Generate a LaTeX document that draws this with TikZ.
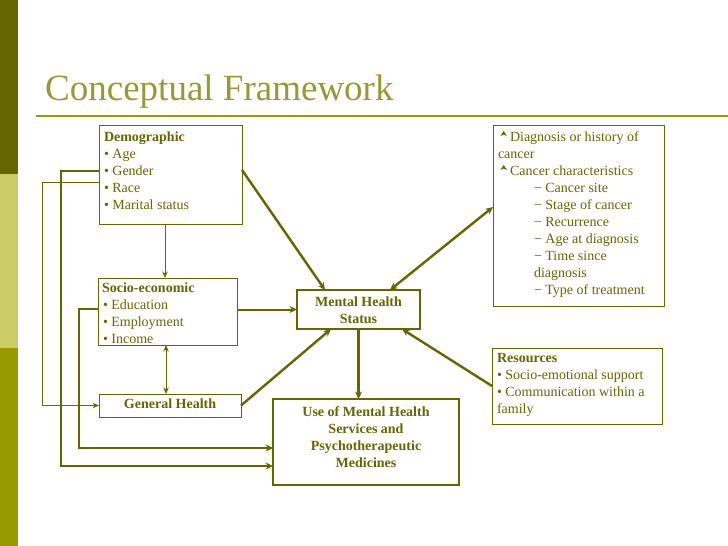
\documentclass[tikz,border=0pt]{standalone}
\usepackage{fontspec}
\setmainfont{Liberation Serif}
\usetikzlibrary{arrows.meta}
\definecolor{olivedark}{HTML}{666600}
\definecolor{olivemid}{HTML}{999900}
\definecolor{olivelight}{HTML}{CCCC66}
\definecolor{titlecol}{HTML}{999933}
\begin{document}
\begin{tikzpicture}[x=1pt,y=-1pt,
  box/.style={draw=olivedark, line width=1pt, inner sep=0pt, outer sep=0pt, rectangle},
  tbox/.style={box, line width=2.2pt},
  txt/.style={anchor=base west, inner sep=0pt, outer sep=0pt, text=olivedark, font=\fontsize{14}{17}\selectfont},
  btxt/.style={txt, font=\bfseries\fontsize{14}{17}\selectfont},
  ctxt/.style={inner sep=0pt, text=olivedark, align=center, font=\bfseries\fontsize{14}{17}\selectfont},
  thinarrow/.style={draw=olivedark, line width=0.9pt, -{Stealth[length=6.5pt,width=5.5pt]}},
  thickarrow/.style={draw=olivedark, line width=2.4pt, -{Stealth[length=7.5pt,width=7pt]}},
  marker/.style={fill=olivedark}
]
\useasboundingbox (0,0) rectangle (728,546);
\fill[white] (0,0) rectangle (728,546);
% side bar
\fill[olivedark] (0,0) rectangle (18,174);
\fill[olivelight] (0,174) rectangle (18,348);
\fill[olivemid] (0,348) rectangle (18,546);
% title
\node[anchor=base west, inner sep=0pt, text=titlecol, font=\fontsize{37}{40}\selectfont] (title) at (45,100) {Conceptual Framework};
\draw[olivemid, line width=2pt] (36,116) -- (728,116);

% boxes
\node[box, minimum width=143pt, minimum height=99pt] (demo) at (170.5,174.5) {};
\node[box, minimum width=139pt, minimum height=67pt] (socio) at (167.5,311.5) {};
\node[box, minimum width=142pt, minimum height=23pt] (gen) at (170,405.5) {};
\node[tbox, minimum width=123pt, minimum height=39pt] (mhs) at (358.5,309.5) {};
\node[tbox, minimum width=186pt, minimum height=86pt] (use) at (366,442) {};
\node[box, minimum width=171pt, minimum height=181pt] (cancer) at (578.5,215.5) {};
\node[box, minimum width=170pt, minimum height=76pt] (res) at (577,386) {};

% demographic text
\node[btxt] (demoT) at (104,141) {Demographic};
\node[txt] (demo1) at (104,158) {• Age};
\node[txt] (demo2) at (104,175) {• Gender};
\node[txt] (demo3) at (104,192) {• Race};
\node[txt] (demo4) at (104,209) {• Marital status};

% socio-economic text
\node[btxt] (socT) at (102,292) {Socio-economic};
\node[txt] (soc1) at (103,309) {• Education};
\node[txt] (soc2) at (103,326) {• Employment};
\node[txt] (soc3) at (103,343) {• Income};

% general health
\node[ctxt, anchor=base] (genT) at (170,408) {General Health};

% mental health status
\node[ctxt, anchor=base] (mhsT1) at (358.5,306) {Mental Health};
\node[ctxt, anchor=base] (mhsT2) at (358.5,323) {Status};

% use of services
\node[ctxt, anchor=base] (useT1) at (366,416) {Use of Mental Health};
\node[ctxt, anchor=base] (useT2) at (366,433) {Services and};
\node[ctxt, anchor=base] (useT3) at (366,450) {Psychotherapeutic};
\node[ctxt, anchor=base] (useT4) at (366,467) {Medicines};

% cancer box
\fill[marker] (500.5,136) -- (503.7,131) -- (506.9,136) -- (503.7,134.6) -- cycle;
\node[txt] (can1) at (510,141) {Diagnosis or history of};
\node[txt] (can2) at (498,158) {cancer};
\fill[marker] (500.5,170) -- (503.7,165) -- (506.9,170) -- (503.7,168.6) -- cycle;
\node[txt] (can3) at (510,175) {Cancer characteristics};
\node[txt] (can4) at (534,192) {− Cancer site};
\node[txt] (can5) at (534,209) {− Stage of cancer};
\node[txt] (can6) at (534,226) {− Recurrence};
\node[txt] (can7) at (534,243) {− Age at diagnosis};
\node[txt] (can8) at (534,260) {− Time since};
\node[txt] (can9) at (534,277) {diagnosis};
\node[txt] (can10) at (534,294) {− Type of treatment};

% resources
\node[btxt] (resT) at (497,362) {Resources};
\node[txt] (res1) at (497,379) {• Socio-emotional support};
\node[txt] (res2) at (497,396) {• Communication within a};
\node[txt] (res3) at (497,413) {family};

% connectors
\draw[thinarrow] ([xshift=-5.5pt]demo.south) -- ([xshift=-5.5pt]demo.south |- socio.north);
\draw[thinarrow, {Stealth[length=6.5pt,width=5.5pt]}-{Stealth[length=6.5pt,width=5.5pt]}] ([xshift=-1.5pt]socio.south) -- ([xshift=-1.5pt]socio.south |- gen.north);
\draw[thickarrow] ([yshift=4.5pt]demo.east) -- ([xshift=-33.5pt]mhs.north);
\draw[thickarrow, line width=2pt] (socio.east |- mhs.west) -- (mhs.west);
\draw[thickarrow] (gen.east) -- ([xshift=-27.5pt]mhs.south);
\draw[thickarrow] (mhs.south) -- (mhs.south |- use.north);
\draw[thickarrow, {Stealth[length=7.5pt,width=7pt]}-{Stealth[length=7.5pt,width=7pt]}] ([xshift=31.5pt]mhs.north) -- ([yshift=8.5pt]cancer.west);
\draw[thickarrow] (res.west) -- ([xshift=43.5pt]mhs.south);
\draw[thinarrow] ([yshift=-7.5pt]demo.west) -- ++(-57,0) |- (gen.west);
\draw[thickarrow] ([yshift=3.5pt]demo.west) -- ++(-38,0) |- ([yshift=-24pt]use.west);
\draw[thickarrow] ([yshift=2.5pt]socio.west) -- ++(-19,0) |- ([yshift=-6pt]use.west);
\end{tikzpicture}
\end{document}
